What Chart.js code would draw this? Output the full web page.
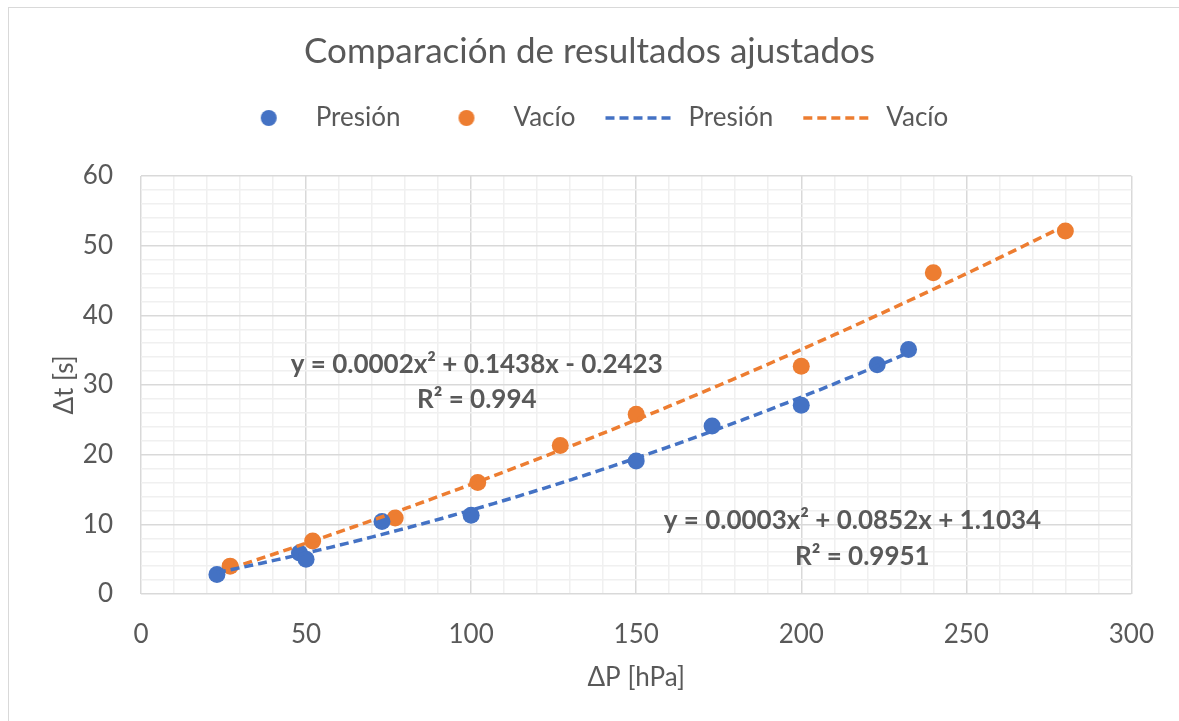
<!DOCTYPE html>
<html lang="es">
<head>
  <meta charset="UTF-8">
  <title>Comparación de resultados ajustados</title>
  <script src="https://cdn.jsdelivr.net/npm/chart.js"></script>
  <style>
    html, body {
      margin: 0;
      padding: 0;
      background: #fff;
      overflow: hidden;
    }
    #wrap {
      position: relative;
      width: 1179px;
      height: 721px;
    }
    #frame {
      position: absolute;
      left: 8px;
      top: 7px;
      width: 1200px;
      height: 800px;
      border-left: 1px solid #d9d9d9;
      border-top: 1px solid #d9d9d9;
      pointer-events: none;
    }
  </style>
</head>
<body>
  <div id="wrap">
    <canvas id="chart" width="1179" height="721"></canvas>
    <div id="frame"></div>
  </div>

  <script>
    // datos
    const presionX = [23, 48, 50, 73, 100, 150, 173, 200, 223, 232.5];
    const presionY = [2.8, 5.9, 5.0, 10.4, 11.3, 19.1, 24.1, 27.1, 32.9, 35.1];
    const vacioX = [27, 52, 77, 102, 127, 150, 200, 240, 280];
    const vacioY = [4.0, 7.6, 10.9, 16.0, 21.3, 25.8, 32.7, 46.1, 52.1];

    const xTicks = [0, 50, 100, 150, 200, 250, 300];
    const yTicks = [0, 10, 20, 30, 40, 50, 60];

    const eqVacio = ['y = 0.0002x² + 0.1438x - 0.2423', 'R² = 0.994'];
    const eqPresion = ['y = 0.0003x² + 0.0852x + 1.1034', 'R² = 0.9951'];

    const azul = '#4472C4';
    const naranja = '#ED7D31';
    const gris = '#595959';
    const FONT = 'Lato, "Noto Sans", sans-serif';

    // ajuste polinomico de orden 2 (minimos cuadrados), como la linea de tendencia de Excel
    function ajusteCuadratico(xs, ys) {
      let s = [0, 0, 0, 0, 0], t = [0, 0, 0];
      xs.forEach((x, i) => {
        for (let k = 0; k < 5; k++) s[k] += Math.pow(x, k);
        for (let k = 0; k < 3; k++) t[k] += ys[i] * Math.pow(x, k);
      });
      const m = [
        [s[0], s[1], s[2], t[0]],
        [s[1], s[2], s[3], t[1]],
        [s[2], s[3], s[4], t[2]]
      ];
      for (let i = 0; i < 3; i++) {
        for (let j = i + 1; j < 3; j++) {
          const f = m[j][i] / m[i][i];
          for (let k = i; k < 4; k++) m[j][k] -= f * m[i][k];
        }
      }
      const c = [0, 0, 0];
      for (let i = 2; i >= 0; i--) {
        let v = m[i][3];
        for (let k = i + 1; k < 3; k++) v -= m[i][k] * c[k];
        c[i] = v / m[i][i];
      }
      return c;
    }

    function tendencia(xs, ys) {
      const c = ajusteCuadratico(xs, ys);
      const x0 = Math.min(...xs), x1 = Math.max(...xs);
      const pts = [];
      for (let i = 0; i <= 80; i++) {
        const x = x0 + (x1 - x0) * i / 80;
        pts.push({x: x, y: c[0] + c[1] * x + c[2] * x * x});
      }
      return pts;
    }

    const toPts = (xs, ys) => xs.map((x, i) => ({x: x, y: ys[i]}));

    // iconos de la leyenda
    function iconoPunto(color) {
      const c = document.createElement('canvas');
      c.width = 72; c.height = 20;
      const g = c.getContext('2d');
      g.fillStyle = color;
      g.beginPath();
      g.arc(38, 10, 8, 0, Math.PI * 2);
      g.fill();
      return c;
    }
    function iconoLinea(color) {
      const c = document.createElement('canvas');
      c.width = 72; c.height = 20;
      const g = c.getContext('2d');
      g.strokeStyle = color;
      g.lineWidth = 3.5;
      g.setLineDash([9, 5]);
      g.beginPath();
      g.moveTo(2, 10);
      g.lineTo(72, 10);
      g.stroke();
      return c;
    }

    const ecuaciones = {
      id: 'ecuaciones',
      afterDatasetsDraw(chart) {
        const ctx = chart.ctx;
        const xs = chart.scales.x, ys = chart.scales.y;
        ctx.save();
        ctx.fillStyle = gris;
        ctx.font = 'bold 26px ' + FONT;
        ctx.textAlign = 'center';
        ctx.textBaseline = 'middle';
        ctx.fillText(eqVacio[0], xs.getPixelForValue(101.7), ys.getPixelForValue(32.9));
        ctx.fillText(eqVacio[1], xs.getPixelForValue(101.7), ys.getPixelForValue(27.9));
        ctx.fillText(eqPresion[0], xs.getPixelForValue(215.5), ys.getPixelForValue(10.6));
        ctx.fillText(eqPresion[1], xs.getPixelForValue(218.5), ys.getPixelForValue(5.3));
        ctx.restore();
      }
    };

    const margenLeyenda = {
      id: 'margenLeyenda',
      beforeInit(chart) {
        const fit = chart.legend.fit;
        chart.legend.fit = function () {
          fit.bind(chart.legend)();
          this.height += 35;
        };
      }
    };

    const iconos = [iconoPunto(azul), iconoPunto(naranja), iconoLinea(azul), iconoLinea(naranja)];

    new Chart(document.getElementById('chart').getContext('2d'), {
      type: 'scatter',
      data: {
        datasets: [
          {
            label: 'Presión',
            data: toPts(presionX, presionY),
            backgroundColor: azul,
            borderColor: azul,
            pointRadius: 8.5,
            pointBorderWidth: 0,
            order: 1
          },
          {
            label: 'Vacío',
            data: toPts(vacioX, vacioY),
            backgroundColor: naranja,
            borderColor: naranja,
            pointRadius: 8.5,
            pointBorderWidth: 0,
            order: 1
          },
          {
            label: 'Presión',
            type: 'line',
            data: tendencia(presionX, presionY),
            borderColor: azul,
            borderWidth: 3.5,
            borderDash: [9, 5],
            pointRadius: 0,
            fill: false,
            order: 0
          },
          {
            label: 'Vacío',
            type: 'line',
            data: tendencia(vacioX, vacioY),
            borderColor: naranja,
            borderWidth: 3.5,
            borderDash: [9, 5],
            pointRadius: 0,
            fill: false,
            order: 0
          }
        ]
      },
      options: {
        responsive: false,
        animation: false,
        layout: { padding: 0 },
        plugins: {
          tooltip: { enabled: false },
          title: {
            display: true,
            text: 'Comparación de resultados ajustados',
            color: gris,
            font: { family: FONT, size: 35, weight: 'normal', lineHeight: 1.2 },
            padding: { top: 31, bottom: 4 }
          },
          legend: {
            display: true,
            labels: {
              color: gris,
              font: { family: FONT, size: 26 },
              usePointStyle: true,
              pointStyleWidth: 72,
              padding: 28,
              generateLabels(chart) {
                return chart.data.datasets.map((ds, i) => ({
                  text: ds.label,
                  datasetIndex: i,
                  pointStyle: iconos[i],
                  fillStyle: ds.borderColor,
                  strokeStyle: ds.borderColor,
                  lineWidth: 0,
                  fontColor: gris,
                  hidden: false
                }));
              }
            }
          }
        },
        scales: {
          x: {
            type: 'linear',
            min: 0,
            max: 300,
            afterFit(scale) { scale.height = 127; },
            afterBuildTicks(scale) {
              const t = [];
              for (let v = 0; v <= 300; v += 10) t.push({value: v});
              scale.ticks = t;
            },
            ticks: {
              autoSkip: false,
              maxRotation: 0,
              padding: 25,
              color: gris,
              font: { family: FONT, size: 26 },
              callback: v => xTicks.includes(v) ? String(v) : ''
            },
            grid: {
              drawTicks: false,
              color: ctx => xTicks.includes(ctx.tick.value) ? '#d9d9d9' : '#f0f0f0',
              lineWidth: 1.5
            },
            border: { display: false },
            title: {
              display: true,
              text: 'ΔP [hPa]',
              color: gris,
              font: { family: FONT, size: 26 },
              padding: { top: 0, bottom: 28 }
            }
          },
          y: {
            type: 'linear',
            min: 0,
            max: 60,
            afterFit(scale) { scale.width = 141; },
            afterBuildTicks(scale) {
              const t = [];
              for (let v = 0; v <= 60; v += 2) t.push({value: v});
              scale.ticks = t;
            },
            ticks: {
              autoSkip: false,
              padding: 28,
              color: gris,
              font: { family: FONT, size: 26 },
              callback: v => yTicks.includes(v) ? String(v) : ''
            },
            grid: {
              drawTicks: false,
              color: ctx => yTicks.includes(ctx.tick.value) ? '#d9d9d9' : '#f0f0f0',
              lineWidth: 1.5
            },
            border: { display: false },
            title: {
              display: true,
              text: 'Δt [s]',
              color: gris,
              font: { family: FONT, size: 26 },
              padding: { top: 49, bottom: 0 }
            }
          },
          // eje vacio a la derecha: solo reserva el margen derecho
          margen: {
            type: 'linear',
            position: 'right',
            display: true,
            afterFit(scale) { scale.width = 44; },
            grid: { display: false },
            ticks: { display: false },
            border: { display: false }
          }
        }
      },
      plugins: [ecuaciones, margenLeyenda]
    });
  </script>
</body>
</html>
